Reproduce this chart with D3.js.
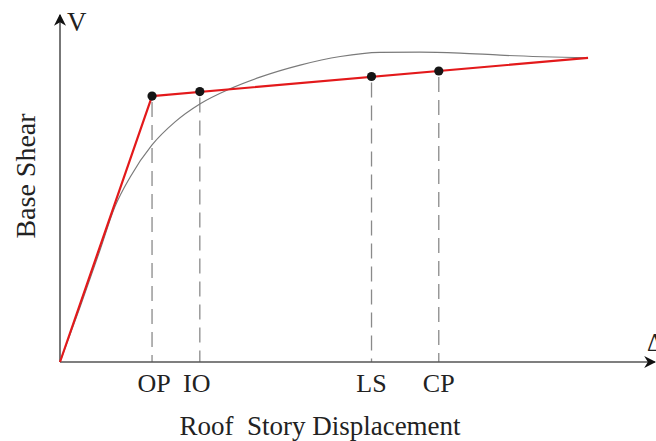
<!DOCTYPE html>
<html>
<head>
<meta charset="utf-8">
<script src="https://cdn.jsdelivr.net/npm/d3@7/dist/d3.min.js"></script>
<style>
html,body{margin:0;padding:0;background:#fff;}
svg{display:block;}
text{font-family:"Liberation Serif","DejaVu Serif",serif;fill:#222;}
</style>
</head>
<body>
<svg id="chart" width="656" height="441"></svg>
<script>
// Data (displacement units 0..100, base shear units 0..100)
const capacityX = [0, 3.4, 6.8, 9.3, 11.9, 15.6, 19.5, 23.7, 28.8, 33.9, 40.7, 47.5, 54.2, 61.0, 67.8, 74.6, 89.5];
const capacityV = [0, 16.0, 32.6, 45.1, 53.8, 63.1, 69.8, 75.0, 79.4, 82.8, 86.3, 88.8, 90.0, 90.1, 89.8, 89.2, 88.4];
const bilinearX = [0, 15.6, 89.5];
const bilinearV = [0, 77.3, 88.4];
const levelNames = ["OP", "IO", "LS", "CP"];
const levelX = [15.6, 23.7, 52.8, 64.2];
const levelV = [77.3, 78.6, 83.0, 84.6];

const svg = d3.select("#chart");
const x0 = 60, y0 = 362;
const x = d3.scaleLinear().domain([0, 100]).range([x0, 650]);
const y = d3.scaleLinear().domain([0, 100]).range([y0, 18]);

// arrow marker
const defs = svg.append("defs");
defs.append("marker").attr("id","arr").attr("viewBox","0 0 10 10")
  .attr("refX",9).attr("refY",5).attr("markerWidth",12).attr("markerHeight",12)
  .attr("markerUnits","userSpaceOnUse").attr("orient","auto")
  .append("path").attr("d","M0,0 L10,5 L0,10 L3,5 Z").attr("fill","#111");

// dashed level lines
svg.append("g").selectAll("line").data(levelX).join("line")
  .attr("x1", d => x(d)).attr("x2", d => x(d))
  .attr("y1", (d,i) => y(levelV[i]) + 6).attr("y2", y0)
  .attr("stroke", "#8a8a8a").attr("stroke-width", 1.3)
  .attr("stroke-dasharray", "15,8");

// axes
svg.append("line").attr("x1", x0).attr("y1", y0).attr("x2", x0).attr("y2", 15)
  .attr("stroke","#555").attr("stroke-width",1.6).attr("marker-end","url(#arr)");
svg.append("line").attr("x1", x0).attr("y1", y0).attr("x2", 655).attr("y2", y0)
  .attr("stroke","#555").attr("stroke-width",1.6).attr("marker-end","url(#arr)");

// capacity curve
const capData = capacityX.map((d,i) => [d, capacityV[i]]);
svg.append("path").datum(capData)
  .attr("d", d3.line().x(d => x(d[0])).y(d => y(d[1])).curve(d3.curveMonotoneX))
  .attr("fill","none").attr("stroke","#7a7a7a").attr("stroke-width",1.2);

// bilinear
const biData = bilinearX.map((d,i) => [d, bilinearV[i]]);
svg.append("path").datum(biData)
  .attr("d", d3.line().x(d => x(d[0])).y(d => y(d[1])))
  .attr("fill","none").attr("stroke","#e3191b").attr("stroke-width",2.2)
  .attr("stroke-linejoin","round");

// points
svg.append("g").selectAll("circle").data(levelX).join("circle")
  .attr("cx", d => x(d)).attr("cy", (d,i) => y(levelV[i])).attr("r", 4.6)
  .attr("fill","#151515");

// level labels
svg.append("g").selectAll("text").data(levelNames).join("text")
  .attr("x", (d,i) => x(levelX[i]) + (i===1 ? -3 : (i===0 ? 2 : 0)))
  .attr("y", 392).attr("text-anchor","middle").attr("font-size", 26)
  .text(d => d);

// axis titles
svg.append("text").attr("x", 320).attr("y", 435).attr("text-anchor","middle")
  .attr("font-size", 27).text("Roof\u00a0 Story Displacement");
svg.append("text").attr("transform","translate(35,176) rotate(-90)")
  .attr("text-anchor","middle").attr("font-size", 28).text("Base Shear");
svg.append("text").attr("x", 67).attr("y", 31).attr("font-size", 27).text("V");
svg.append("text").attr("x", 647).attr("y", 351).attr("font-size", 25).text("Δ");
</script>
</body>
</html>
